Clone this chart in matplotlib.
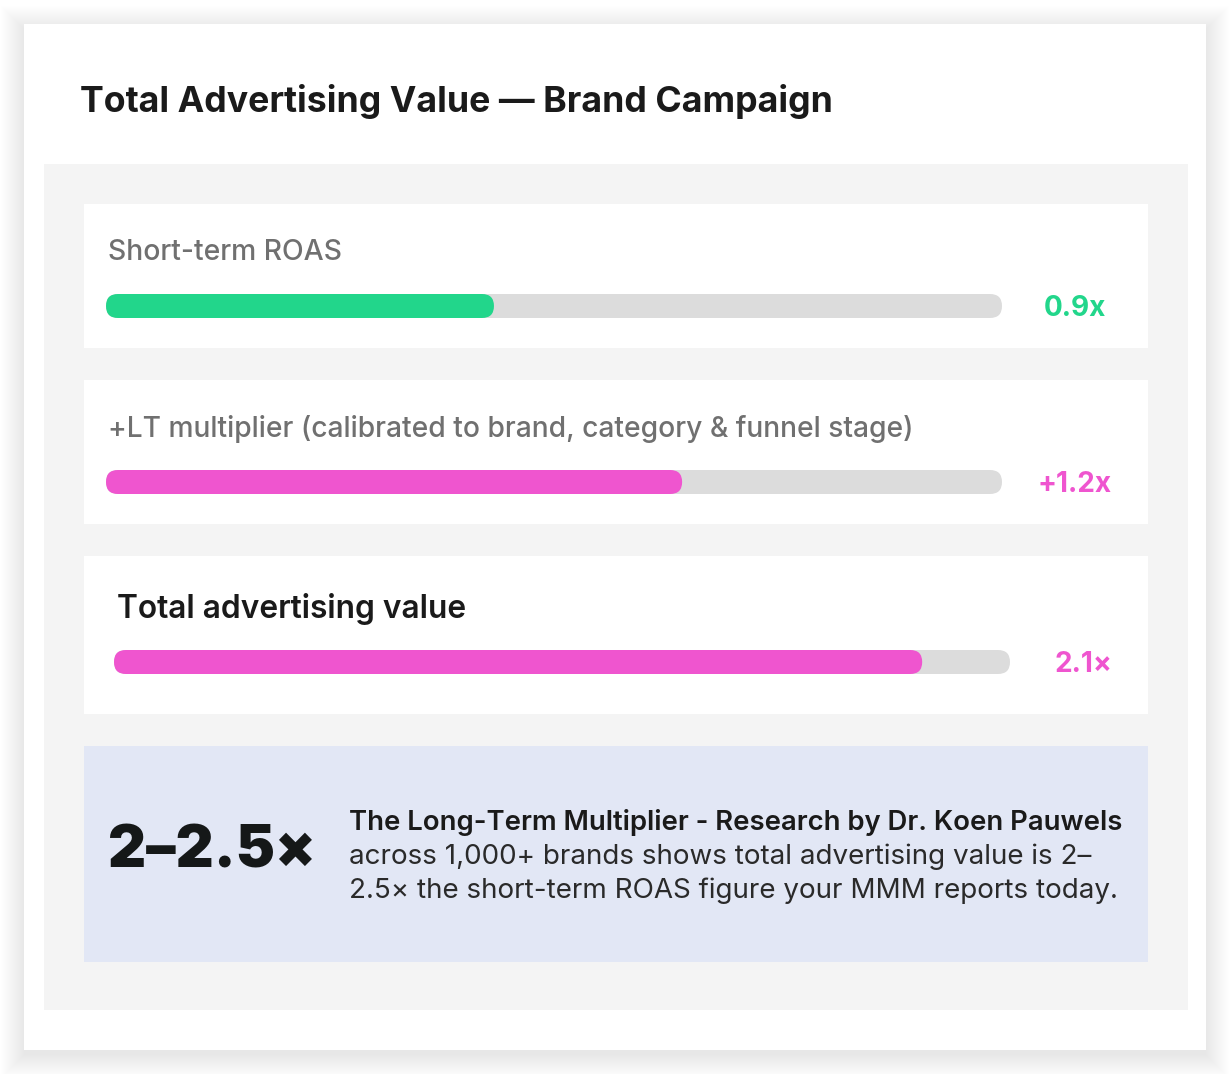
import matplotlib
matplotlib.use("Agg")
import matplotlib.pyplot as plt
from matplotlib.patches import FancyBboxPatch, Rectangle

plt.rcParams['font.family'] = ['Inter', 'DejaVu Sans']

# ---- data ----
title = "Total Advertising Value — Brand Campaign"
row_labels = ["Short-term ROAS",
              "+LT multiplier (calibrated to brand, category & funnel stage)",
              "Total advertising value"]
value_labels = ["0.9x", "+1.2x", "2.1×"]
fill_pct = [43.3, 64.3, 90.2]          # share of the track that is filled
bar_colors = ["#22D68B", "#EF55CF", "#EF55CF"]
callout_big = "2–2.5×"
callout_head = "The Long-Term Multiplier - Research by Dr. Koen Pauwels"
callout_body = ["across 1,000+ brands shows total advertising value is 2–",
                "2.5× the short-term ROAS figure your MMM reports today."]

W, H = 1230, 1074
fig = plt.figure(figsize=(W / 100, H / 100), dpi=100)
ax = fig.add_axes([0, 0, 1, 1])
ax.set_xlim(0, W)
ax.set_ylim(H, 0)
ax.axis('off')
fig.patch.set_facecolor('white')

def px(v):
    return v * 0.72

# card shadow
for i in range(24):
    ax.add_patch(Rectangle((24 - i, 24 - i + 5), 1182 + 2 * i, 1026 + 2 * i,
                           facecolor='black', alpha=0.004, edgecolor='none', zorder=0))
ax.add_patch(Rectangle((24, 24), 1182, 1026, facecolor='white', edgecolor='none', zorder=1))

ax.text(80, 112, title, fontsize=px(35.7), fontweight='bold', color='#1A1A1A',
        va='baseline', ha='left', zorder=5)

# grey panel
ax.add_patch(Rectangle((44, 164), 1144, 846, facecolor='#F4F4F4', edgecolor='none', zorder=2))

rows = [
    dict(card=(204, 348), label_x=108, label_y=260, track=(106, 1002, 294),
         lsize=28.3, lweight='medium', lcolor='#707070'),
    dict(card=(380, 524), label_x=108, label_y=437, track=(106, 1002, 470),
         lsize=28.2, lweight='medium', lcolor='#707070'),
    dict(card=(556, 714), label_x=117, label_y=618, track=(114, 1010, 650),
         lsize=31.7, lweight='semibold', lcolor='#1A1A1A'),
]
bar_h = 24
for r, lab, val, pct, col in zip(rows, row_labels, value_labels, fill_pct, bar_colors):
    y0, y1 = r['card']
    ax.add_patch(Rectangle((84, y0), 1064, y1 - y0, facecolor='white', edgecolor='none', zorder=3))
    ax.text(r['label_x'], r['label_y'], lab, fontsize=px(r['lsize']), fontweight=r['lweight'],
            color=r['lcolor'], va='baseline', ha='left', zorder=5)
    x0, x1, ty = r['track']
    tw = x1 - x0
    ax.add_patch(FancyBboxPatch((x0, ty), tw, bar_h,
                                boxstyle=f"round,pad=0,rounding_size={bar_h/2}",
                                facecolor='#DCDCDC', edgecolor='none', zorder=4))
    ax.add_patch(FancyBboxPatch((x0, ty), tw * pct / 100, bar_h,
                                boxstyle=f"round,pad=0,rounding_size={bar_h/2}",
                                facecolor=col, edgecolor='none', zorder=4.5))
    ax.text(x1 + 73, ty + 21.5, val, fontsize=px(28), fontweight='bold', color=col,
            va='baseline', ha='center', zorder=5)

# callout box
ax.add_patch(Rectangle((84, 746), 1064, 216, facecolor='#E2E7F5', edgecolor='none', zorder=3))
ax.text(108, 868, callout_big, fontsize=px(59), fontweight='black', color='#151818',
        va='baseline', ha='left', zorder=5)
ax.text(349, 830, callout_head, fontsize=px(27.5), fontweight='semibold', color='#1A1A1A',
        va='baseline', ha='left', zorder=5)
for i, line in enumerate(callout_body):
    ax.text(349, 864 + 34 * i, line, fontsize=px(27.8), fontweight='normal', color='#2A2A2A',
            va='baseline', ha='left', zorder=5)

fig.savefig('out.png', dpi=100, facecolor='white')
